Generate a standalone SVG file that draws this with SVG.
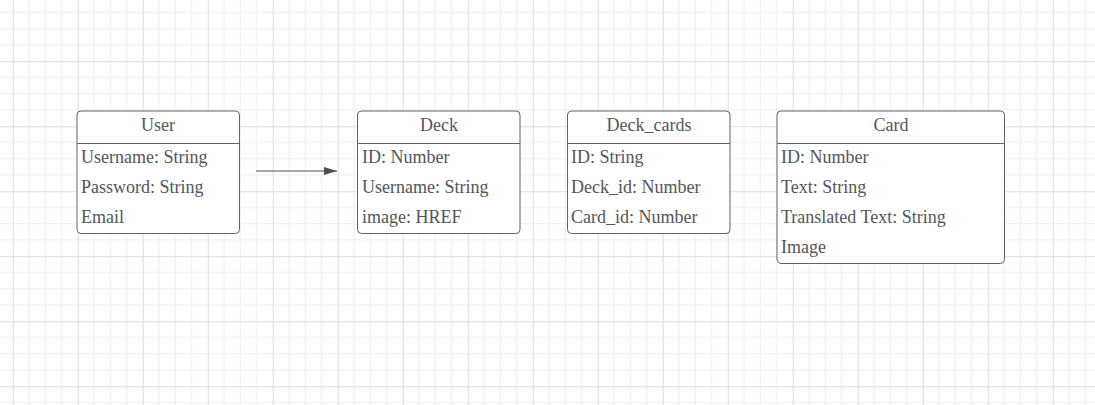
<svg xmlns="http://www.w3.org/2000/svg" width="1095" height="405" viewBox="0 0 1095 405">
<style>
.box{fill:#ffffff;stroke:#5f636b;stroke-width:1}
.sep{stroke:#5f636b;stroke-width:1}
.t{font-family:"Liberation Serif","Times New Roman",serif;font-size:18px;fill:#51565e}
.h{text-anchor:middle}
.conn{stroke:#4a4f59;stroke-width:1;fill:none}
</style>
<defs>
<pattern id="grid" patternUnits="userSpaceOnUse" x="12.75" y="-3.75" width="65" height="65">
<rect width="65" height="65" fill="#ffffff"/>
<path d="M16.25 0V65M32.5 0V65M48.75 0V65M0 16.25H65M0 32.5H65M0 48.75H65" stroke="#eeeeee" stroke-width="1" fill="none"/>
<path d="M0.5 0V65M0 0.5H65" stroke="#dedede" stroke-width="1" fill="none"/>
</pattern>
<marker id="arr" markerWidth="14" markerHeight="10" refX="13" refY="5" orient="auto" markerUnits="userSpaceOnUse">
<path d="M0 1L13 5L0 9Z" fill="#4a4f59"/>
</marker>
</defs>
<rect width="1095" height="405" fill="url(#grid)"/>
<g id="connectors">
<path class="conn" d="M256 171H337" marker-end="url(#arr)"/>
</g>
<g id="user">
<rect class="box" x="77" y="111" width="162.5" height="122.5" rx="4"/>
<line class="sep" x1="77" y1="143.5" x2="239.5" y2="143.5"/>
<text class="t h" x="158" y="131">User</text>
<text class="t" x="81" y="163">Username: String</text>
<text class="t" x="81" y="193">Password: String</text>
<text class="t" x="81" y="223">Email</text>
</g>
<g id="deck">
<rect class="box" x="357.5" y="111" width="162.5" height="122.5" rx="4"/>
<line class="sep" x1="357.5" y1="143.5" x2="520" y2="143.5"/>
<text class="t h" x="439" y="131">Deck</text>
<text class="t" x="362" y="163">ID: Number</text>
<text class="t" x="362" y="193">Username: String</text>
<text class="t" x="362" y="223">image: HREF</text>
</g>
<g id="deck_cards">
<rect class="box" x="567.5" y="111" width="162.5" height="122.5" rx="4"/>
<line class="sep" x1="567.5" y1="143.5" x2="730" y2="143.5"/>
<text class="t h" x="649" y="131">Deck_cards</text>
<text class="t" x="571" y="163">ID: String</text>
<text class="t" x="571" y="193">Deck_id: Number</text>
<text class="t" x="571" y="223">Card_id: Number</text>
</g>
<g id="card">
<rect class="box" x="777" y="111" width="227.5" height="152.5" rx="4"/>
<line class="sep" x1="777" y1="143.5" x2="1004.5" y2="143.5"/>
<text class="t h" x="891" y="131">Card</text>
<text class="t" x="781" y="163">ID: Number</text>
<text class="t" x="781" y="193">Text: String</text>
<text class="t" x="781" y="223">Translated Text: String</text>
<text class="t" x="781" y="253">Image</text>
</g>
</svg>
